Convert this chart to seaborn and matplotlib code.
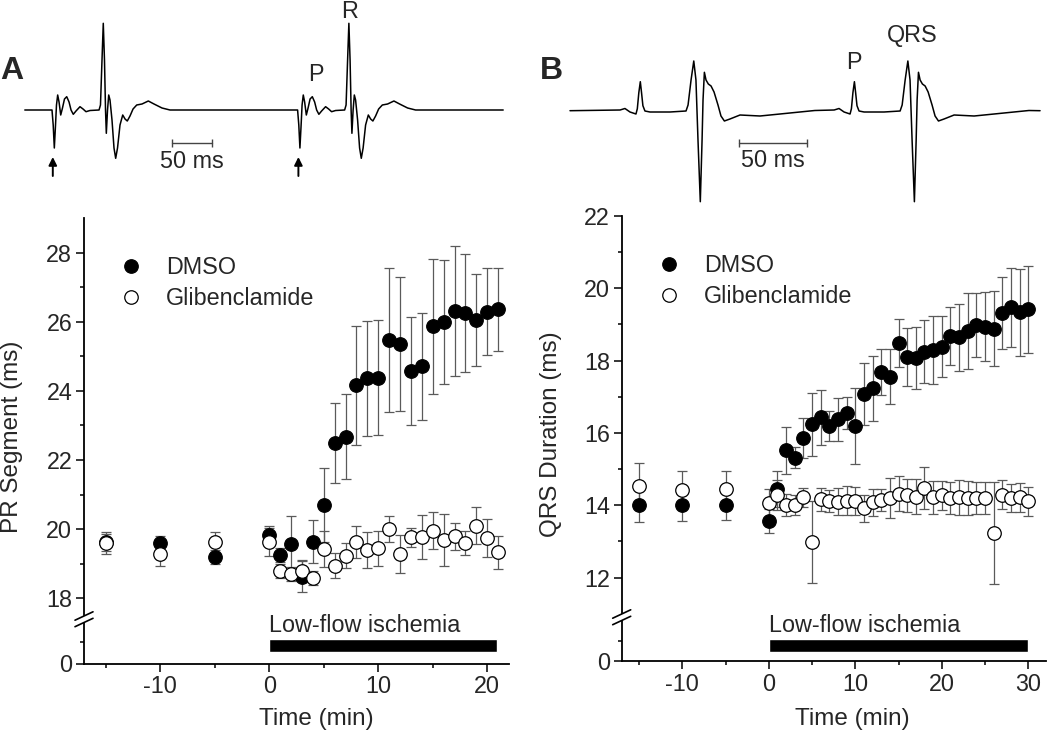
import numpy as np
import pandas as pd
import matplotlib
matplotlib.use('Agg')
import matplotlib.pyplot as plt
import seaborn as sns
from matplotlib.lines import Line2D

sns.set_theme(style='ticks')
plt.rcParams['font.family'] = ['Liberation Sans', 'DejaVu Sans']
plt.rcParams['axes.linewidth'] = 1.2

W, H = 1050, 734
FS = 16.8
LFS = 17.5

# ---------------- data: panel A (PR segment) ----------------
pr_time = [-15, -10, -5, 0, 1, 2, 3, 4, 5, 6, 7, 8, 9, 10, 11, 12, 13, 14, 15, 16, 17, 18, 19, 20, 21]
pr_dmso = [19.62, 19.61, 19.19, 19.83, 19.25, 19.57, 18.63, 19.64, 20.70, 22.49, 22.68, 24.16, 24.36, 24.38,
           25.46, 25.36, 24.57, 24.71, 25.87, 26.00, 26.31, 26.26, 26.05, 26.29, 26.36]
pr_dmso_sem = [0.25, 0.2, 0.2, 0.27, 0.2, 0.82, 0.44, 0.63, 1.07, 1.16, 1.22, 1.73, 1.65, 1.66,
               2.08, 1.94, 1.57, 1.55, 1.95, 1.79, 1.87, 1.71, 1.32, 1.25, 1.2]
pr_glib = [19.60, 19.28, 19.64, 19.64, 18.80, 18.70, 18.80, 18.58, 19.42, 18.94, 19.24, 19.62, 19.40, 19.45,
           20.00, 19.28, 19.77, 19.77, 19.96, 19.69, 19.79, 19.61, 20.10, 19.74, 19.33]
pr_glib_sem = [0.31, 0.33, 0.29, 0.4, 0.2, 0.2, 0.3, 0.2, 0.52, 0.36, 0.37, 0.46, 0.52, 0.5,
               0.37, 0.54, 0.28, 0.64, 0.53, 0.74, 0.4, 0.35, 0.54, 0.55, 0.48]
pr_ischemia = [0, 20.9]

# ---------------- data: panel B (QRS duration) ----------------
qrs_time = [-15, -10, -5, 0, 1, 2, 3, 4, 5, 6, 7, 8, 9, 10, 11, 12, 13, 14, 15, 16, 17, 18, 19, 20,
            21, 22, 23, 24, 25, 26, 27, 28, 29, 30]
qrs_dmso = [14.00, 14.00, 14.00, 13.56, 14.45, 15.52, 15.32, 15.86, 16.24, 16.43, 16.19, 16.38, 16.56, 16.19,
            17.08, 17.23, 17.69, 17.56, 18.48, 18.11, 18.07, 18.25, 18.30, 18.39,
            18.69, 18.64, 18.82, 18.99, 18.94, 18.88, 19.32, 19.47, 19.34, 19.42]
qrs_dmso_sem = [0.47, 0.43, 0.42, 0.33, 0.5, 0.65, 0.3, 0.55, 0.87, 0.75, 0.42, 0.6, 0.44, 1.04,
                0.85, 0.9, 0.63, 0.76, 0.67, 0.8, 0.85, 0.88, 0.94, 0.85,
                0.8, 0.93, 1.05, 0.88, 0.95, 1.04, 1.0, 1.1, 1.2, 1.2]
qrs_glib = [14.53, 14.43, 14.45, 14.06, 14.29, 14.00, 14.00, 14.22, 12.99, 14.16, 14.12, 14.10, 14.12, 14.12,
            13.92, 14.08, 14.15, 14.20, 14.32, 14.27, 14.24, 14.48, 14.22, 14.27,
            14.20, 14.22, 14.20, 14.20, 14.20, 13.23, 14.29, 14.20, 14.22, 14.11]
qrs_glib_sem = [0.63, 0.53, 0.5, 0.4, 0.42, 0.3, 0.27, 0.26, 1.13, 0.32, 0.3, 0.38, 0.4, 0.38,
                0.37, 0.38, 0.3, 0.55, 0.48, 0.45, 0.48, 0.59, 0.45, 0.4,
                0.45, 0.48, 0.48, 0.45, 0.45, 1.42, 0.4, 0.4, 0.4, 0.4]
qrs_ischemia = [0, 30]

# ---------------- data: example ECG traces (ms, arbitrary units) ----------------
ecg_a_beat_ms = [0, 1.5, 2.9, 4.4, 5.6, 7.1, 8.8, 10.9, 13.1, 15.6, 18.4, 21.3, 23.8, 26.6, 30, 35, 38.8,
                 42.5, 47.5, 58.8, 60.6, 62.5, 64.1, 65.6, 66.9, 67.9, 69.4, 70.9, 72.5, 75, 77.5, 79.6,
                 81.9, 85, 88.4, 91.3, 94.1, 97.5, 101.3, 105.9, 112.5, 120.4, 127.5, 137.5, 147.5]
ecg_a_beat_amp = [0, -15, -38, -15, 5, 15, 8, -5, 2, 11, 13.3, 8, 0, -4.3, -1, 3.3, 1,
                  -1.7, -0.5, 0, 5, 50, 86.7, 50, 0, -23.3, 0, 15, 10, -10, -38, -48.3,
                  -38, -15, -5, -9, -11, -6, 1, 5, 6, 9, 6, 2, 0]
ecg_a_onsets = [0, 307]
ecg_a_span = [-34, 564]

ecg_b_beat_ms = [36.8, 40.4, 44.1, 48.5, 49.5, 50.6, 51.7, 52.6, 53.6, 55.1, 58.8, 73.5, 85.3, 86.8, 89,
                 91, 92.6, 94.1, 95.8, 97.1, 97.8, 98.8, 100, 101.7, 103.7, 105.9, 108.8, 111, 113.5,
                 117.6, 125, 139.7, 154.4, 169, 180]
ecg_b_beat_amp = [0.7, 2.2, -1.3, -3.3, 2, 18, 29, 18, 5, -0.3, -1.3, -1.3, -0.3, 5.7, 30.7,
                  49.7, 30.7, -29.3, -91, -29.3, 10.7, 38.4, 30.7, 26.7, 24.7, 18.7, 5.7, -5.3, -10.3,
                  -8.3, -4.3, -5.3, -3.3, -1.3, 0.2]
ecg_b_onsets = [0, 157.4]
ecg_b_span = [0, 345.6]


def px_box(left, top, right, bottom):
    return [left / W, 1 - bottom / H, (right - left) / W, (bottom - top) / H]


def build_trace(beat_t, beat_v, onsets, span):
    t = [span[0]]
    v = [0]
    for on in onsets:
        t += [on + x for x in beat_t]
        v += list(beat_v)
    t.append(span[1])
    v.append(0)
    return t, v


def style_axis(ax, labelsize=FS):
    ax.tick_params(which='major', direction='out', length=5.5, width=1.1, labelsize=labelsize, pad=3, color='black')
    ax.tick_params(which='minor', direction='out', length=3, width=1.1, color='black')
    for s in ax.spines.values():
        s.set_color('black')
        s.set_linewidth(1.3)


def draw_panel(fig, up_box, lo_box, time, dmso, dmso_sem, glib, glib_sem, isch,
               xlim, up_ylim, lo_ylim, yticks, yminor, xticks, xminor, bar_y, text_y):
    ax_up = fig.add_axes(px_box(*up_box))
    ax_lo = fig.add_axes(px_box(*lo_box))

    # error bars first, then DMSO (filled), then glibenclamide (open) on top
    ax_up.errorbar(time, dmso, yerr=dmso_sem, fmt='none', ecolor='#5a5a5a', elinewidth=0.9,
                   capsize=3.5, capthick=0.9, zorder=1)
    ax_up.errorbar(time, glib, yerr=glib_sem, fmt='none', ecolor='#5a5a5a', elinewidth=0.9,
                   capsize=3.5, capthick=0.9, zorder=1)
    sns.scatterplot(x=time, y=dmso, ax=ax_up, color='black', edgecolor='black', linewidth=0.9,
                    s=95, zorder=3, legend=False)
    sns.scatterplot(x=time, y=glib, ax=ax_up, color='white', edgecolor='black', linewidth=0.9,
                    s=95, zorder=4, legend=False)

    ax_up.set_xlim(*xlim)
    ax_up.set_ylim(*up_ylim)
    ax_up.set_yticks(yticks)
    ax_up.set_yticks(yminor, minor=True)
    ax_up.set_xticks([])
    sns.despine(ax=ax_up, bottom=True)
    style_axis(ax_up)

    # lower strip with the ischemia bar
    ax_lo.barh(bar_y[0], isch[1] - isch[0], left=isch[0], height=bar_y[1], color='black')
    ax_lo.text(isch[0], text_y, 'Low-flow ischemia', fontsize=FS, ha='left', va='baseline', clip_on=False)
    ax_lo.set_xlim(*xlim)
    ax_lo.set_ylim(*lo_ylim)
    ax_lo.set_yticks([0])
    ax_lo.set_yticks([1], minor=True)
    ax_lo.set_xticks(xticks)
    ax_lo.set_xticks(xminor, minor=True)
    ax_lo.set_xticklabels([str(v) for v in xticks])
    sns.despine(ax=ax_lo)
    style_axis(ax_lo)
    ax_lo.patch.set_alpha(0)
    ax_up.patch.set_alpha(0)

    # axis-break marks
    x0 = up_box[0]
    for yb in (up_box[3] + 1, lo_box[1] - 0.5):
        fig.add_artist(Line2D([(x0 - 9) / W, (x0 + 9) / W], [1 - (yb + 4.2) / H, 1 - (yb - 4.2) / H],
                              color='black', lw=1.2, transform=fig.transFigure))

    handles = [Line2D([], [], ls='none', marker='o', ms=9.7, mfc='black', mec='black', mew=0.9),
               Line2D([], [], ls='none', marker='o', ms=9.7, mfc='white', mec='black', mew=0.9)]
    return ax_up, ax_lo, handles


fig = plt.figure(figsize=(W / 100, H / 100), dpi=100)

# ---- Panel A ----
ax_a, ax_a_lo, hdl = draw_panel(fig, (84, 218, 509, 615), (84, 623, 509, 663.5),
                                pr_time, pr_dmso, pr_dmso_sem, pr_glib, pr_glib_sem, pr_ischemia,
                                (-17, 22), (17.52, 29.0), (0, 1.91),
                                [18, 20, 22, 24, 26, 28], [19, 21, 23, 25, 27],
                                [-10, 0, 10, 20], [-15, -5, 5, 15], (0.85, 0.62), 1.5)
fig.legend(hdl, ['DMSO', 'Glibenclamide'], loc='upper left', bbox_to_anchor=(119 / W, 1 - 256 / H),
           frameon=False, fontsize=FS, handlelength=1.0, handletextpad=1.0, labelspacing=0.33,
           borderpad=0, borderaxespad=0)
fig.text(12 / W, 1 - 437 / H, 'PR Segment (ms)', rotation=90, ha='center', va='center', fontsize=LFS)
fig.text(316 / W, 1 - 719 / H, 'Time (min)', ha='center', va='center', fontsize=LFS)

# ---- Panel B ----
ax_b, ax_b_lo, hdl = draw_panel(fig, (621.7, 216, 1045.6, 613), (621.7, 621, 1045.6, 661),
                                qrs_time, qrs_dmso, qrs_dmso_sem, qrs_glib, qrs_glib_sem, qrs_ischemia,
                                (-17, 32), (11.02, 22.0), (0, 2.0),
                                [12, 14, 16, 18, 20, 22], [13, 15, 17, 19, 21],
                                [-10, 0, 10, 20, 30], [-15, -5, 5, 15, 25], (0.78, 0.68), 1.47)
fig.legend(hdl, ['DMSO', 'Glibenclamide'], loc='upper left', bbox_to_anchor=(657 / W, 1 - 254 / H),
           frameon=False, fontsize=FS, handlelength=1.0, handletextpad=1.0, labelspacing=0.33,
           borderpad=0, borderaxespad=0)
fig.text(551 / W, 1 - 434 / H, 'QRS Duration (ms)', rotation=90, ha='center', va='center', fontsize=LFS)
fig.text(852 / W, 1 - 719 / H, 'Time (min)', ha='center', va='center', fontsize=LFS)

# ---- ECG trace A ----
ax_ea = fig.add_axes(px_box(20, 0, 510, 180))
ta, va = build_trace(ecg_a_beat_ms, ecg_a_beat_amp, ecg_a_onsets, ecg_a_span)
sns.lineplot(x=ta, y=va, ax=ax_ea, color='black', lw=1.1, sort=False, estimator=None)
ax_ea.set_xlim(-40, 572.5)
ax_ea.set_ylim(-70, 110)
ax_ea.axis('off')
ax_ea.plot([150, 200], [-33, -33], color='#444444', lw=1.0, marker='|', ms=6, mew=1.0)
ax_ea.text(175, -40, '50 ms', ha='center', va='top', fontsize=FS)
for on in ecg_a_onsets:
    ax_ea.annotate('', xy=(on + 1, -47), xytext=(on + 1, -66),
                   arrowprops=dict(arrowstyle='-|>', color='black', lw=1.4, mutation_scale=12,
                                   shrinkA=0, shrinkB=0),
                   annotation_clip=False)
ax_ea.text(ecg_a_onsets[1] + 23, 35.5, 'P', ha='center', va='center', fontsize=FS)
ax_ea.text(ecg_a_onsets[1] + 65, 98, 'R', ha='center', va='center', fontsize=FS, clip_on=False)
fig.text(12 / W, 1 - 71 / H, 'A', ha='center', va='center', fontsize=23, fontweight='bold')

# ---- ECG trace B ----
ax_eb = fig.add_axes(px_box(560, 0, 1050, 215))
tb, vb = build_trace(ecg_b_beat_ms, ecg_b_beat_amp, ecg_b_onsets, ecg_b_span)
sns.lineplot(x=tb, y=vb, ax=ax_eb, color='black', lw=1.1, sort=False, estimator=None)
ax_eb.set_xlim(-7.35, 352.9)
ax_eb.set_ylim(-104.3, 110.7)
ax_eb.axis('off')
ax_eb.plot([124.5, 174.5], [-32.6, -32.6], color='#444444', lw=1.0, marker='|', ms=6, mew=1.0)
ax_eb.text(149.5, -38, '50 ms', ha='center', va='top', fontsize=FS)
ax_eb.text(ecg_b_onsets[1] + 51, 48, 'P', ha='center', va='center', fontsize=FS)
ax_eb.text(ecg_b_onsets[1] + 94.5, 75, 'QRS', ha='center', va='center', fontsize=FS)
fig.text(551 / W, 1 - 71 / H, 'B', ha='center', va='center', fontsize=23, fontweight='bold')

fig.savefig('out.png', dpi=100)
